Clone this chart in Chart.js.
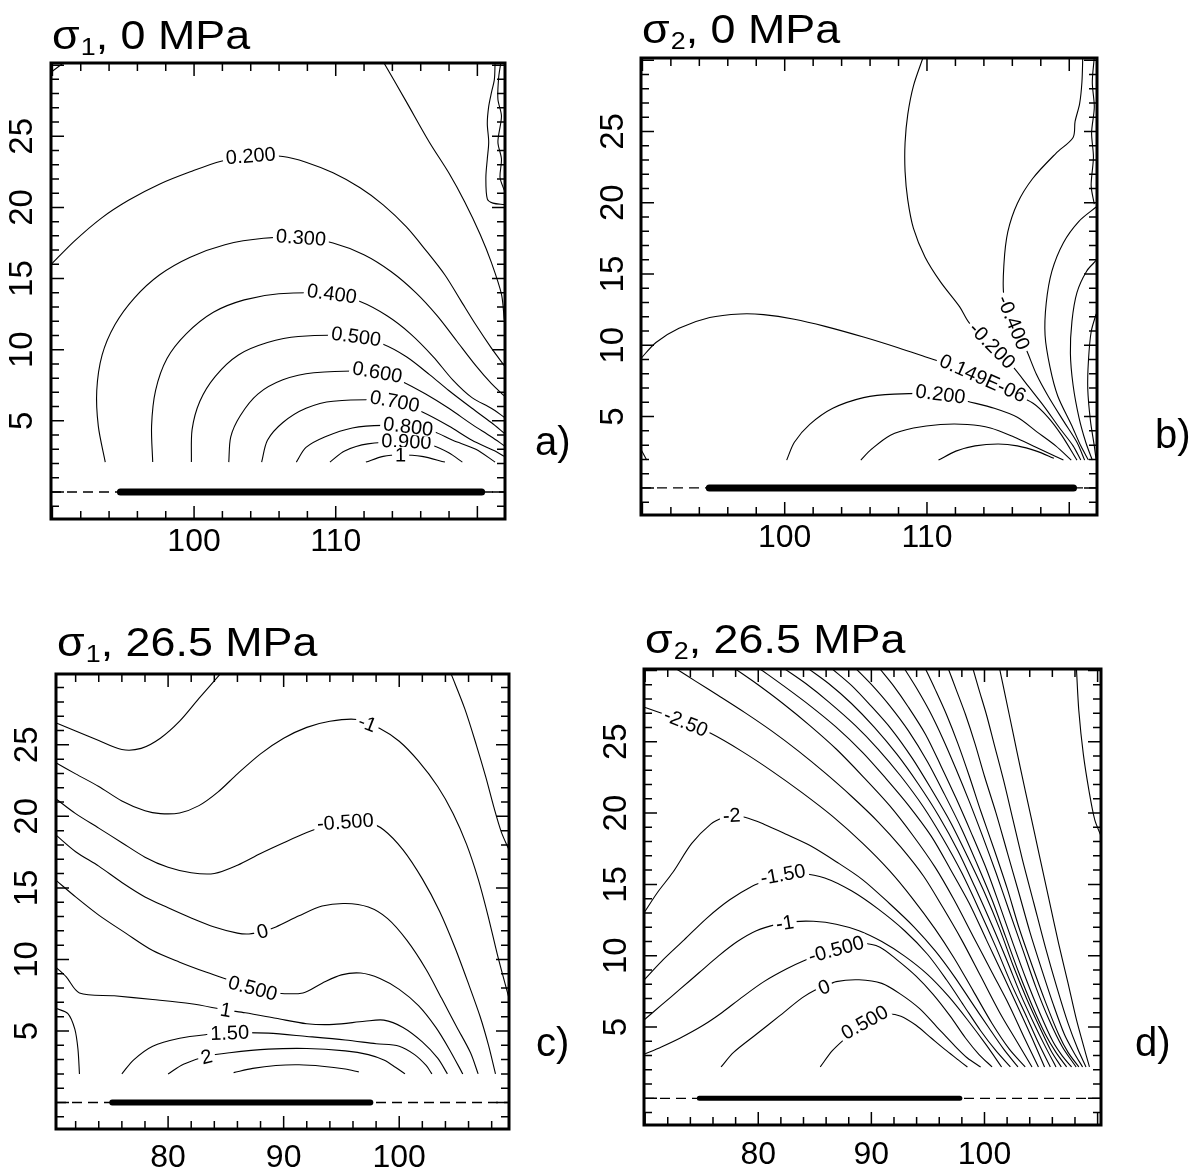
<!DOCTYPE html>
<html>
<head>
<meta charset="utf-8">
<script src="https://cdn.jsdelivr.net/npm/chart.js@4.4.1/dist/chart.umd.min.js"></script>
<style>
  body { margin: 0; background: #fff; width: 1193px; height: 1173px; position: relative; overflow: hidden; }
  canvas { position: absolute; }
</style>
</head>
<body>
<canvas id="pa" width="596" height="590" style="left:0;top:0"></canvas>
<canvas id="pb" width="597" height="590" style="left:596px;top:0"></canvas>
<canvas id="pc" width="596" height="583" style="left:0;top:590px"></canvas>
<canvas id="pd" width="597" height="583" style="left:596px;top:590px"></canvas>
<script>
// tick labels
const yTickLabels = [5, 10, 15, 20, 25];
const xTickLabelsTop = [100, 110];
const xTickLabelsBottom = [80, 90, 100];

// ---- panel a: sigma1, 0 MPa ----
const aCorner = [[89.9,29.5],[90.7,30.1]];
const aDiag = [[113.35,30.25],[115.0,27.4],[116.6,24.6],[118.0,22.4],[119.1,20.4],[120.2,18.1],[121.0,16.1],[121.7,13.9],[121.9,12.1]];
const aWave1 = [[121.25,30.2],[121.2,29.0],[121.0,28.1],[120.8,27.1],[120.7,25.9],[120.8,24.6],[120.7,23.4],[120.6,22.1],[120.7,20.6],[121.1,20.3],[121.9,20.2]];
const aWave2 = [[121.66,30.2],[121.5,29.1],[121.45,27.6],[121.7,26.4],[121.45,24.6],[121.7,23.4],[121.6,22.1],[121.9,21.2]];
const aC020 = [[89.92,16.0],[91.55,17.63],[93.46,19.25],[95.37,20.5],[97.55,21.63],[99.73,22.5],[101.91,23.25],[104.09,23.63],[106.27,23.58],[107.9,23.18],[109.81,22.43],[111.72,21.38],[113.35,20.18],[114.99,18.63],[116.35,17.0],[117.71,15.25],[118.8,13.5],[119.89,11.75],[120.98,10.13],[121.9,8.88]];
const aC030 = [[93.73,2.1],[93.24,4.63],[93.13,7.13],[93.51,9.63],[94.41,11.75],[95.78,13.63],[97.55,15.25],[99.73,16.5],[102.18,17.38],[104.9,17.83],[107.63,17.88],[109.81,17.5],[111.99,16.68],[113.9,15.5],[115.67,14.0],[117.17,12.38],[118.53,10.63],[119.89,8.88],[120.98,7.63],[121.9,6.75]];
const aC040 = [[97.08,2.1],[97.0,4.63],[97.28,7.13],[98.09,9.38],[99.46,11.13],[101.36,12.63],[103.54,13.5],[105.99,13.93],[109.67,13.93],[111.72,13.38],[113.62,12.38],[115.26,11.13],[116.89,9.5],[118.26,7.88],[119.62,6.63],[120.98,5.88],[121.9,5.25]];
const aC050 = [[99.81,2.1],[99.86,4.38],[100.41,6.38],[101.5,8.13],[103.13,9.63],[105.18,10.5],[107.36,10.93],[111.44,10.93],[113.35,10.38],[114.99,9.5],[116.62,8.25],[117.98,7.13],[119.62,5.88],[120.98,4.88],[121.9,4.13]];
const aC060 = [[102.45,2.1],[102.59,3.88],[103.27,5.38],[104.5,6.88],[106.27,7.88],[108.45,8.38],[112.94,8.43],[114.71,7.75],[116.35,6.88],[117.98,5.88],[119.62,4.75],[120.98,3.88],[121.9,3.25]];
const aC070 = [[104.77,2.1],[105.18,3.63],[106.27,4.88],[107.9,5.88],[109.81,6.38],[114.17,6.38],[116.08,5.63],[117.98,4.63],[119.62,3.63],[121.25,2.88],[121.9,2.5]];
const aC080 = [[107.22,2.1],[107.9,3.13],[109.26,3.88],[111.17,4.5],[113.35,4.68],[115.12,4.55],[116.89,4.25],[118.26,3.63],[119.89,3.0],[121.25,2.1]];
const aC090 = [[109.59,2.1],[110.63,2.88],[112.26,3.38],[114.99,3.5],[116.89,3.25],[117.98,2.75],[118.94,2.1]];
const aC100 = [[112.13,2.1],[113.35,2.5],[114.58,2.6],[116.08,2.5],[117.71,2.1]];
const aLabels = [['0.200',104.0,23.63],['0.300',107.55,17.88],['0.400',109.73,13.93],['0.500',111.44,10.93],['0.600',112.94,8.43],['0.700',114.17,6.38],['0.900',114.99,3.55],['0.800',115.12,4.6],['1',114.58,2.6]];
const aBar = [[94.8,0],[120.3,0]];

// ---- panel b: sigma2, 0 MPa ----
const bCorner = [[89.9,2.7],[90.3,1.95]];
const bWave = [[121.76,30.2],[121.62,28.45],[121.76,26.7],[121.57,24.9],[121.7,23.2],[121.54,21.2],[121.76,19.9]];
const bM040 = [[120.95,30.2],[120.89,28.45],[120.73,26.95],[120.41,25.7],[120.27,24.58],[119.05,23.45],[117.43,21.7],[116.35,19.95],[115.68,17.95],[115.41,15.7],[115.41,13.45],[116.08,11.7],[117.03,9.58],[117.7,7.95],[118.51,6.45],[119.59,4.7],[120.54,3.2],[121.08,1.95]];
const bM020 = [[109.73,30.2],[109.05,28.2],[108.65,26.2],[108.46,24.2],[108.46,22.2],[108.65,20.2],[109.05,18.2],[109.86,16.2],[110.95,14.45],[112.3,12.7],[112.97,11.58],[114.46,10.2],[116.08,8.45],[117.16,7.08],[118.24,5.7],[119.32,4.2],[120.27,2.95],[120.81,1.95]];
const bZero = [[89.9,9.08],[90.95,10.2],[92.57,11.2],[94.73,11.95],[96.89,12.2],[98.51,12.15],[100.68,11.83],[102.84,11.33],[105.54,10.58],[107.97,9.83],[109.86,9.2],[110.95,8.83],[112.57,8.2],[114.19,7.58],[115.81,6.7],[117.43,5.95],[118.51,4.95],[119.46,3.7],[120.54,1.95]];
const bP020 = [[100.14,1.95],[100.68,3.2],[101.76,4.45],[103.38,5.58],[105.54,6.33],[107.7,6.58],[110.95,6.58],[112.84,6.08],[114.73,5.58],[116.35,4.95],[117.7,3.95],[119.05,2.95],[120.14,1.95]];
const bP040 = [[105.35,1.95],[106.08,2.7],[107.43,3.7],[109.05,4.2],[110.95,4.45],[112.84,4.45],[114.46,4.2],[116.08,3.58],[117.7,2.83],[119.05,2.2],[119.59,1.95]];
const bP060 = [[110.81,1.95],[112.03,2.58],[113.38,2.95],[115.0,3.08],[116.35,2.95],[117.7,2.58],[118.92,2.08]];
const bR1 = [[121.89,19.7],[120.68,18.7],[119.59,17.2],[118.78,15.2],[118.38,12.95],[118.3,10.7],[118.65,8.45],[119.19,6.45],[120.14,4.45],[120.81,2.95],[121.35,1.95]];
const bR2 = [[121.89,15.95],[121.22,15.2],[120.54,13.7],[120.19,11.7],[120.08,9.45],[120.27,7.2],[120.68,4.95],[121.16,3.2],[121.62,1.95]];
const bR3 = [[121.89,12.2],[121.54,10.95],[121.35,8.95],[121.3,6.95],[121.49,4.7],[121.76,2.95],[121.89,1.95]];
const bLabels = [['-0.400',116.08,11.6],['-0.200',114.59,10.0],['0.149E-06',113.92,7.7],['0.200',110.95,6.58]];
const bBar = [[94.7,0],[120.3,0]];

// ---- panel c: sigma1, 26.5 MPa ----
const cM150 = [[70.33,26.52],[72.0,25.96],[74.0,25.3],[76.0,24.67],[77.67,24.75],[79.33,25.46],[81.0,26.65],[82.67,28.24],[84.5,29.94]];
const cM100 = [[70.33,23.73],[72.0,22.97],[74.0,22.09],[76.0,21.08],[78.0,20.39],[79.33,20.19],[81.0,20.24],[82.67,20.75],[84.33,21.71],[86.0,22.97],[88.0,24.37],[90.0,25.46],[92.0,26.22],[94.0,26.65],[96.33,26.77],[98.33,26.14],[100.0,25.25],[101.67,23.86],[103.33,22.09],[104.67,20.19],[105.83,18.04],[106.83,15.63],[107.67,13.1],[108.5,10.32],[109.5,7.28]];
const cM050 = [[70.33,21.2],[72.0,20.19],[74.0,19.18],[76.0,18.16],[78.0,17.15],[80.0,16.44],[82.0,16.06],[84.0,16.01],[86.0,16.59],[88.0,17.41],[90.0,18.16],[92.0,18.87],[93.67,19.35],[95.33,19.61],[97.33,19.56],[98.67,19.05],[100.33,17.66],[102.0,15.63],[103.5,13.35],[104.83,10.82],[106.0,8.29],[107.0,6.01],[107.73,3.99],[108.33,2.0]];
const cZero = [[70.33,18.67],[72.0,17.53],[74.0,16.52],[76.0,15.38],[78.0,14.37],[80.0,13.61],[82.0,12.9],[84.0,12.27],[86.0,11.84],[87.0,11.78],[88.17,11.96],[89.33,12.27],[91.33,13.05],[93.33,13.73],[95.33,13.91],[97.33,13.66],[99.0,12.85],[100.67,11.33],[102.33,9.3],[103.67,7.28],[105.0,5.25],[106.17,3.48],[106.83,2.0]];
const cP050 = [[70.33,15.51],[72.0,14.37],[74.0,13.1],[76.33,11.84],[78.67,10.62],[81.0,9.81],[83.33,9.1],[85.33,8.54],[87.33,7.99],[89.33,7.66],[91.67,7.66],[93.33,8.34],[95.0,8.92],[96.67,9.05],[98.33,8.67],[100.0,7.91],[101.67,6.77],[103.17,5.25],[104.33,3.73],[105.5,2.0]];
const cP100 = [[70.33,9.43],[71.17,8.8],[72.33,7.66],[75.33,7.46],[78.67,7.2],[82.0,6.9],[85.0,6.47],[86.67,6.27],[89.33,5.89],[92.0,5.51],[94.33,5.46],[97.0,5.68],[98.67,5.76],[100.33,5.25],[102.0,4.24],[103.33,3.1],[104.17,2.0]];
const cP150 = [[76.0,2.0],[77.0,2.97],[78.67,3.94],[81.0,4.49],[83.33,4.75],[85.33,4.87],[88.67,4.85],[92.0,4.62],[95.33,4.37],[98.0,4.11],[100.0,3.94],[101.33,3.35],[102.33,2.59],[102.83,2.0]];
const cP200 = [[80.0,2.0],[81.33,2.67],[83.33,3.23],[85.33,3.48],[88.67,3.73],[92.0,3.78],[95.33,3.61],[97.33,3.35],[98.67,2.97],[99.67,2.47],[100.5,2.0]];
const cP250 = [[85.67,2.09],[87.33,2.39],[89.33,2.59],[91.33,2.64],[93.33,2.54],[95.33,2.34],[96.5,2.14]];
const cCorner = [[70.33,6.57],[71.33,6.22],[71.93,5.13],[72.2,3.73],[72.33,2.0]];
const cRight = [[104.5,29.94],[105.67,27.53],[106.67,25.0],[107.5,22.72],[108.17,20.7],[108.83,18.92],[109.5,17.66]];
const cLabels = [['-1',97.25,26.5],['-0.500',95.33,19.61],['0',88.17,11.96],['0.500',87.33,7.99],['1',85.0,6.47],['1.50',85.33,4.87],['2',83.33,3.2]];
const cBar = [[75.17,0],[97.5,0]];

// ---- panel d: sigma2, 26.5 MPa ----
const dP050 = [[85.48,2.2],[86.55,3.34],[87.73,4.23],[89.24,5.25],[91.26,5.89],[92.61,5.76],[93.95,5.12],[95.29,4.23],[96.64,3.34],[97.65,2.71],[98.49,2.2]];
const dZero = [[76.71,2.2],[77.82,3.22],[79.83,4.49],[81.85,5.76],[83.87,7.04],[85.04,7.6],[85.82,7.8],[86.89,8.18],[88.91,8.31],[90.92,8.06],[92.61,7.29],[94.29,6.27],[95.8,5.0],[97.31,3.73],[98.49,2.83],[99.66,2.2]];
const dM050 = [[69.92,3.09],[71.43,3.6],[73.11,4.23],[75.13,5.12],[76.81,6.02],[78.49,7.04],[80.5,8.18],[82.52,9.08],[84.03,9.64],[85.88,10.22],[87.56,10.6],[89.24,10.86],[90.76,10.6],[92.27,9.71],[93.95,8.57],[95.46,7.29],[96.97,5.76],[98.32,4.23],[99.5,3.09],[100.67,2.2]];
const dM100 = [[69.92,5.51],[71.43,6.53],[73.11,7.67],[74.79,8.82],[76.47,9.97],[78.15,10.99],[79.83,11.75],[81.51,12.18],[83.19,12.39],[84.87,12.41],[86.89,12.21],[88.91,11.75],[90.92,10.99],[92.94,9.97],[94.96,8.69],[96.81,7.16],[98.49,5.51],[100.17,3.73],[101.51,2.2]];
const dM150 = [[69.92,8.31],[71.43,9.59],[73.45,11.11],[75.46,12.64],[77.48,13.92],[79.5,14.89],[80.84,15.32],[82.18,15.65],[83.87,15.75],[85.88,15.45],[88.24,14.55],[90.59,13.28],[92.94,11.75],[94.96,10.1],[96.64,8.31],[98.15,6.53],[99.66,4.74],[101.01,3.34],[102.29,2.2]];
const dM200 = [[69.92,13.03],[71.09,14.43],[72.44,15.83],[74.12,17.87],[75.8,19.22],[76.81,19.65],[77.65,19.78],[78.82,19.7],[80.5,19.22],[82.52,18.5],[84.54,17.74],[86.89,16.59],[89.24,15.32],[91.6,13.66],[93.78,12.01],[95.63,10.35],[97.31,8.57],[98.82,6.78],[100.34,5.0],[101.68,3.47],[102.96,2.2]];
const dM250 = [[69.92,27.42],[71.6,26.96],[73.45,26.4],[75.8,25.59],[78.49,24.36],[81.18,22.96],[83.87,21.43],[86.55,19.78],[89.24,17.87],[91.6,15.96],[93.61,14.04],[95.63,11.88],[97.31,9.84],[98.99,7.55],[100.67,5.25],[102.18,3.47],[103.6,2.2]];
const dF01 = [[72.77,30.1],[74.45,29.25],[76.47,28.24],[78.82,27.04],[81.18,25.76],[83.53,24.36],[85.88,22.83],[88.24,21.18],[90.59,19.39],[92.61,17.61],[94.62,15.57],[96.3,13.41],[97.98,11.11],[99.66,8.57],[101.34,6.02],[102.86,3.98],[104.2,2.2]];
const dF02 = [[77.98,30.1],[79.83,29.08],[82.18,27.68],[84.54,26.15],[86.89,24.49],[89.24,22.58],[91.6,20.54],[93.61,18.5],[95.63,16.21],[97.31,13.92],[98.99,11.37],[100.67,8.82],[102.18,6.53],[103.53,4.23],[104.77,2.2]];
const dF03 = [[80.17,30.1],[82.18,28.95],[84.54,27.55],[86.89,26.02],[89.24,24.24],[91.26,22.45],[93.28,20.54],[95.29,18.38],[96.97,16.08],[98.66,13.66],[100.17,11.11],[101.68,8.57],[103.03,6.27],[104.2,4.23],[105.31,2.2]];
const dF04 = [[82.35,30.1],[84.2,29.08],[86.22,27.8],[88.57,26.15],[90.59,24.49],[92.61,22.58],[94.62,20.41],[96.3,18.25],[97.98,15.83],[99.5,13.28],[101.01,10.6],[102.35,8.06],[103.7,5.76],[104.71,3.98],[105.82,2.2]];
const dF05 = [[84.47,30.1],[86.22,29.08],[88.24,27.68],[90.25,26.02],[92.27,24.11],[94.12,22.07],[95.97,19.78],[97.65,17.36],[99.16,14.81],[100.67,12.13],[102.02,9.59],[103.19,7.29],[104.37,5.25],[105.31,3.73],[106.32,2.2]];
const dF06 = [[86.55,30.1],[88.24,28.95],[89.92,27.55],[91.76,25.89],[93.61,23.85],[95.29,21.69],[96.97,19.39],[98.49,16.97],[100.0,14.43],[101.34,11.88],[102.52,9.33],[103.7,7.04],[104.87,5.0],[105.88,3.34],[106.79,2.2]];
const dF07 = [[88.67,30.1],[90.08,28.95],[91.6,27.55],[93.28,25.76],[94.96,23.6],[96.47,21.31],[97.98,18.89],[99.33,16.46],[100.67,13.92],[101.85,11.37],[103.03,8.82],[104.2,6.53],[105.38,4.49],[106.32,3.22],[107.26,2.2]];
const dF08 = [[90.76,30.1],[91.93,28.95],[93.28,27.42],[94.79,25.51],[96.13,23.34],[97.48,21.05],[98.82,18.63],[100.17,16.08],[101.34,13.53],[102.52,10.86],[103.7,8.31],[104.87,6.02],[106.05,3.98],[106.89,2.96],[107.7,2.2]];
const dF09 = [[92.94,30.1],[93.95,28.82],[95.13,27.17],[96.3,25.25],[97.48,23.09],[98.66,20.8],[99.83,18.38],[101.01,15.83],[102.18,13.15],[103.36,10.48],[104.54,7.8],[105.71,5.51],[106.89,3.6],[108.1,2.2]];
const dF10 = [[94.79,30.1],[95.63,28.69],[96.64,26.91],[97.65,24.87],[98.66,22.58],[99.66,20.16],[100.84,17.48],[102.02,14.68],[103.03,12.01],[104.2,9.33],[105.38,6.78],[106.55,4.49],[107.39,3.22],[108.34,2.2]];
const dF11 = [[96.81,30.1],[97.48,28.69],[98.32,26.91],[99.16,24.87],[100.0,22.58],[101.01,20.03],[102.02,17.23],[103.03,14.43],[104.03,11.62],[105.04,9.08],[106.05,6.66],[107.06,4.49],[107.9,3.22],[108.67,2.2]];
const dF12 = [[98.99,30.1],[99.5,28.69],[100.17,26.91],[100.84,24.87],[101.68,22.32],[102.52,19.52],[103.36,16.72],[104.37,13.66],[105.38,10.6],[106.39,7.8],[107.39,5.25],[108.24,3.47],[108.97,2.2]];
const dF13 = [[101.34,30.1],[101.85,28.18],[102.52,25.64],[103.19,23.09],[104.03,20.03],[104.87,16.97],[105.71,13.92],[106.55,10.86],[107.39,8.06],[108.13,5.51],[108.74,3.73],[109.28,2.2]];
const dF14 = [[108.13,30.1],[108.34,27.17],[108.74,24.11],[109.24,21.56],[109.75,19.52],[110.25,18.5]];
const dLabels = [['-2.50',73.6,26.35],['-2',77.65,19.83],['-1.50',82.18,15.7],['-1',82.35,12.3],['-0.500',86.89,10.45],['0',85.82,7.8],['0.500',89.4,5.33]];
const dBar = [[74.79,0],[97.82,0]];

const FONT = '"Liberation Sans", Arial, Helvetica, sans-serif';

// angle of the contour under a label, from a chord of the line around it
function chordAngle(pts, px, py, half) {
    let best = Infinity, bi = 0, bt = 0;
    for (let i = 0; i < pts.length - 1; i++) {
        const dx = pts[i + 1].x - pts[i].x, dy = pts[i + 1].y - pts[i].y;
        const l2 = dx * dx + dy * dy || 1;
        let t = ((px - pts[i].x) * dx + (py - pts[i].y) * dy) / l2;
        t = Math.max(0, Math.min(1, t));
        const qx = pts[i].x + t * dx, qy = pts[i].y + t * dy;
        const d = (qx - px) ** 2 + (qy - py) ** 2;
        if (d < best) { best = d; bi = i; bt = t; }
    }
    const cum = [0];
    for (let i = 1; i < pts.length; i++) {
        cum.push(cum[i - 1] + Math.hypot(pts[i].x - pts[i - 1].x, pts[i].y - pts[i - 1].y));
    }
    const s0 = cum[bi] + bt * (cum[bi + 1] - cum[bi]);
    const at = function(s) {
        s = Math.max(0, Math.min(cum[cum.length - 1], s));
        let i = 1;
        while (i < cum.length - 1 && cum[i] < s) i++;
        const f = (s - cum[i - 1]) / ((cum[i] - cum[i - 1]) || 1);
        return { x: pts[i - 1].x + f * (pts[i].x - pts[i - 1].x), y: pts[i - 1].y + f * (pts[i].y - pts[i - 1].y) };
    };
    const p1 = at(s0 - half), p2 = at(s0 + half);
    let ang = Math.atan2(p2.y - p1.y, p2.x - p1.x);
    if (ang > Math.PI / 2) ang -= Math.PI;
    if (ang < -Math.PI / 2) ang += Math.PI;
    return { ang: ang, dist: best };
}

function makePanelPlugin(cfg) {
    return {
        id: 'panel',
        afterDatasetsDraw(chart) {
            const ctx = chart.ctx;
            const a = chart.chartArea;
            const xs = chart.scales.x, ys = chart.scales.y;
            ctx.save();

            // contour labels with a white gap under them
            ctx.font = '20px ' + FONT;
            ctx.textAlign = 'center';
            ctx.textBaseline = 'middle';
            const lines = chart.data.datasets.filter(d => d.contour).map(d =>
                d.data.map(q => ({ x: xs.getPixelForValue(q[0]), y: ys.getPixelForValue(q[1]) })));
            cfg.labels.forEach(function(l) {
                const px = xs.getPixelForValue(l[1]), py = ys.getPixelForValue(l[2]);
                const w = ctx.measureText(l[0]).width;
                let best = null;
                lines.forEach(function(pts) {
                    const r = chordAngle(pts, px, py, w / 2);
                    if (!best || r.dist < best.dist) best = r;
                });
                ctx.save();
                ctx.translate(px, py);
                ctx.rotate(best ? best.ang : 0);
                ctx.fillStyle = '#fff';
                ctx.fillRect(-w / 2 - 3, -8, w + 6, 16);
                ctx.fillStyle = '#000';
                ctx.fillText(l[0], 0, 1);
                ctx.restore();
            });

            // inward tick marks on all four sides
            ctx.strokeStyle = '#000';
            ctx.lineWidth = 1.5;
            ctx.beginPath();
            xs.ticks.forEach(function(t) {
                const px = xs.getPixelForValue(t.value);
                const len = t.value % 10 === 0 ? 13 : 8;
                ctx.moveTo(px, a.bottom); ctx.lineTo(px, a.bottom - len);
                ctx.moveTo(px, a.top); ctx.lineTo(px, a.top + len);
            });
            ys.ticks.forEach(function(t) {
                const py = ys.getPixelForValue(t.value);
                const len = t.value % 5 === 0 ? 13 : 8;
                ctx.moveTo(a.left, py); ctx.lineTo(a.left + len, py);
                ctx.moveTo(a.right, py); ctx.lineTo(a.right - len, py);
            });
            ctx.stroke();

            // frame
            ctx.lineWidth = 3;
            ctx.strokeRect(a.left, a.top, a.right - a.left, a.bottom - a.top);

            // rotated y tick labels
            ctx.fillStyle = '#000';
            ctx.font = '33px ' + FONT;
            ctx.textAlign = 'center';
            ctx.textBaseline = 'middle';
            yTickLabels.forEach(function(v) {
                const py = ys.getPixelForValue(v);
                ctx.save();
                ctx.translate(a.left - cfg.yLabelGap, py);
                ctx.rotate(-Math.PI / 2);
                ctx.fillText(String(v), 0, 0);
                ctx.restore();
            });

            // title: sigma with subscript
            ctx.save();
            ctx.translate(a.left + 1, a.top - cfg.titleGap);
            ctx.scale(1.12, 1);
            ctx.textAlign = 'left';
            ctx.textBaseline = 'alphabetic';
            ctx.font = '40px ' + FONT;
            ctx.fillText('σ', 0, 0);
            let tw = ctx.measureText('σ').width + 1;
            ctx.font = '24px ' + FONT;
            ctx.fillText(cfg.sub, tw, 6);
            tw += ctx.measureText(cfg.sub).width;
            ctx.font = '40px ' + FONT;
            ctx.fillText(cfg.rest, tw, 0);
            ctx.restore();

            // panel letter
            ctx.font = '40px ' + FONT;
            ctx.textAlign = 'left';
            ctx.textBaseline = 'alphabetic';
            ctx.fillText(cfg.letter, a.right + cfg.letterDx, a.bottom - cfg.letterDy);

            ctx.restore();
        }
    };
}

function contour(data) {
    return { data: data, contour: true, showLine: true, borderColor: '#000', borderWidth: 1.1,
             pointRadius: 0, tension: 0.3, fill: false };
}

function makePanel(id, cfg) {
    const datasets = [
        { data: [[cfg.xmin, 0], [cfg.xmax, 0]], showLine: true, borderColor: '#000', borderWidth: 1.4,
          borderDash: [10, 6], pointRadius: 0 },
        { data: cfg.bar, showLine: true, borderColor: '#000', borderWidth: cfg.barWidth,
          borderCapStyle: 'round', pointRadius: 0 }
    ].concat(cfg.lines.map(contour));

    new Chart(document.getElementById(id), {
        type: 'scatter',
        data: { datasets: datasets },
        options: {
            responsive: false,
            animation: false,
            events: [],
            layout: { padding: { left: 0, top: cfg.pad.top, right: cfg.pad.right, bottom: cfg.pad.bottom } },
            plugins: { legend: { display: false }, tooltip: { enabled: false } },
            scales: {
                x: {
                    type: 'linear', min: cfg.xmin, max: cfg.xmax,
                    grid: { display: false, drawTicks: false },
                    border: { display: false },
                    ticks: {
                        stepSize: 2, includeBounds: false, autoSkip: false, maxRotation: 0,
                        padding: cfg.xPad, color: '#000', font: { family: FONT, size: 32 },
                        callback: v => cfg.xLabels.includes(v) ? String(v) : ''
                    },
                    afterFit: s => { s.height = cfg.xh; }
                },
                y: {
                    type: 'linear', min: cfg.ymin, max: cfg.ymax,
                    grid: { display: false, drawTicks: false },
                    border: { display: false },
                    ticks: { stepSize: 1, includeBounds: false, display: false },
                    afterFit: s => { s.width = cfg.yw; }
                }
            }
        },
        plugins: [makePanelPlugin(cfg)]
    });
}

makePanel('pa', {
    xmin: 89.9, xmax: 121.95, ymin: -1.9, ymax: 30.15,
    lines: [aCorner, aDiag, aWave1, aWave2, aC020, aC030, aC040, aC050, aC060, aC070, aC080, aC090, aC100],
    labels: aLabels, bar: aBar, barWidth: 7, xLabels: xTickLabelsTop,
    yw: 51, xh: 60, pad: { top: 63, right: 91, bottom: 11 }, xPad: 4,
    yLabelGap: 28, titleGap: 14, sub: '1', rest: ', 0 MPa', letter: 'a)', letterDx: 30, letterDy: 64
});
makePanel('pb', {
    xmin: 89.9, xmax: 121.95, ymin: -1.9, ymax: 30.15,
    lines: [bCorner, bWave, bM040, bM020, bZero, bP020, bP040, bP060, bR1, bR2, bR3],
    labels: bLabels, bar: bBar, barWidth: 7, xLabels: xTickLabelsTop,
    yw: 45, xh: 64, pad: { top: 58, right: 96, bottom: 11 }, xPad: 4,
    yLabelGap: 27, titleGap: 15, sub: '2', rest: ', 0 MPa', letter: 'b)', letterDx: 58, letterDy: 67
});
makePanel('pc', {
    xmin: 70.3, xmax: 109.5, ymin: -1.85, ymax: 29.95,
    lines: [cM150, cM100, cM050, cZero, cP050, cP100, cP150, cP200, cP250, cCorner, cRight],
    labels: cLabels, bar: cBar, barWidth: 6, xLabels: xTickLabelsBottom,
    yw: 56, xh: 40, pad: { top: 84, right: 87, bottom: 4 }, xPad: 10,
    yLabelGap: 28, titleGap: 18, sub: '1', rest: ', 26.5 MPa', letter: 'c)', letterDx: 27, letterDy: 73
});
makePanel('pd', {
    xmin: 69.9, xmax: 110.3, ymin: -1.87, ymax: 30.1,
    lines: [dP050, dZero, dM050, dM100, dM150, dM200, dM250, dF01, dF02, dF03, dF04, dF05, dF06, dF07,
            dF08, dF09, dF10, dF11, dF12, dF13, dF14],
    labels: dLabels, bar: dBar, barWidth: 5, xLabels: xTickLabelsBottom,
    yw: 48, xh: 44, pad: { top: 79, right: 92, bottom: 4 }, xPad: 11,
    yLabelGap: 27, titleGap: 16, sub: '2', rest: ', 26.5 MPa', letter: 'd)', letterDx: 34, letterDy: 69
});
</script>
</body>
</html>
